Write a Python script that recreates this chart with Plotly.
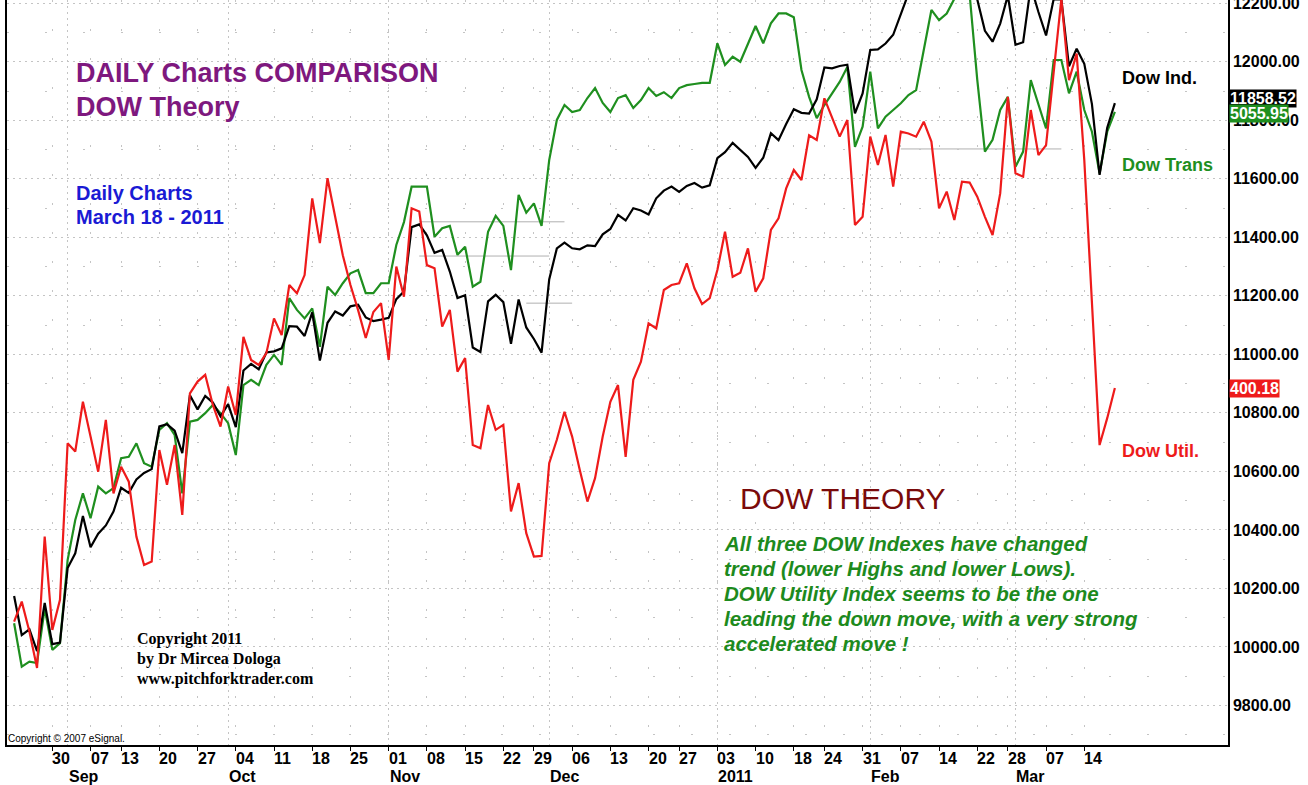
import pandas as pd
import plotly.graph_objects as go

# NYSE sessions shown on the chart (weekends + market holidays skipped)
holidays = ["2010-09-06", "2010-11-25", "2010-12-24", "2011-01-17", "2011-02-21"]
days = pd.bdate_range("2010-08-23", "2011-03-18", freq="C", holidays=holidays)
day_idx = {d.strftime("%Y-%m-%d"): i for i, d in enumerate(days)}

dow_ind = [
    10174.41, 10040.45, 10060.06, 9985.81, 10150.65, 10009.73, 10014.72,
    10269.47, 10320.10, 10447.93, 10340.69, 10387.01, 10415.24, 10462.77,
    10544.13, 10526.49, 10572.73, 10594.83, 10607.85, 10753.62, 10761.03,
    10739.31, 10662.42, 10860.26, 10812.04, 10858.14, 10835.28, 10788.05,
    10829.68, 10751.27, 10944.72, 10967.65, 10948.58, 11006.48, 11010.34,
    11020.40, 11096.08, 11094.57, 11062.78, 11143.69, 10978.62, 11107.97,
    11146.57, 11132.56, 11164.05, 11169.46, 11126.28, 11113.95, 11118.49,
    11124.62, 11188.72, 11215.13, 11434.84, 11444.08, 11406.84, 11346.75,
    11357.04, 11283.10, 11192.58, 11201.97, 11023.50, 11007.88, 11181.23,
    11203.55, 11178.58, 11036.37, 11187.28, 11092.00, 11052.49, 11006.02,
    11255.78, 11362.19, 11382.09, 11362.41, 11359.16, 11372.48, 11370.06,
    11410.32, 11428.56, 11476.54, 11457.47, 11499.25, 11491.91, 11478.13,
    11533.16, 11559.49, 11573.49, 11555.03, 11575.54, 11585.38, 11569.71,
    11577.51, 11670.75, 11691.18, 11722.89, 11697.31, 11674.76, 11637.45,
    11671.88, 11755.44, 11731.90, 11787.38, 11837.93, 11825.29, 11822.80,
    11871.84, 11980.52, 11977.19, 11985.44, 11989.83, 11823.70, 11891.93,
    12040.16, 12041.97, 12062.26, 12092.15, 12161.63, 12233.15, 12239.89,
    12229.29, 12273.26, 12268.19, 12226.64, 12288.17, 12318.14, 12391.25,
    12212.79, 12105.78, 12068.50, 12130.45, 12226.34, 12058.02, 12066.80,
    12258.20, 12169.88, 12090.03, 12214.38, 12213.09, 11984.61, 12044.40,
    11993.16, 11855.42, 11613.30, 11774.59, 11858.52,
]

# Transports and Utilities as overlaid on the Dow Ind price scale
dow_trans = [
    10081, 9933, 9950, 9945, 10132, 9990, 10013, 10297, 10434, 10525,
    10440, 10548, 10525, 10543, 10645, 10650, 10696, 10628, 10616, 10742,
    10765, 10725, 10525, 10770, 10776, 10799, 10827, 10799, 10765, 10656,
    10895, 10913, 10895, 10964, 10998, 10964, 11192, 11152, 11123, 11157,
    11026, 11231, 11203, 11243, 11277, 11288, 11209, 11209, 11243, 11243,
    11374, 11452, 11573, 11573, 11573, 11402, 11431, 11439, 11340, 11368,
    11231, 11248, 11419, 11473, 11439, 11288, 11545, 11484, 11516, 11439,
    11664, 11801, 11852, 11828, 11835, 11876, 11910, 11859, 11828, 11876,
    11886, 11842, 11869, 11910, 11883, 11896, 11876, 11910, 11920, 11924,
    11928, 11928, 12063, 11989, 12017, 12000, 12063, 12122, 12063, 12131,
    12165, 12165, 12152, 11972, 11880, 11807, 11852, 11893, 11931, 11982,
    11709, 11778, 11966, 11772, 11812, 11835, 11858, 11886, 11903, 12040,
    12177, 12142, 12165, 12215, 12240, 12230, 11938, 11693, 11733, 11835,
    11880, 11641, 11693, 11937, 11858, 11772, 12006, 12006, 11892, 11966,
    11835, 11761, 11619, 11761, 11829,
]

dow_util = [
    10087, 10155, 10053, 9928, 10377, 10058, 10161, 10696, 10668, 10838,
    10719, 10599, 10776, 10525, 10616, 10565, 10377, 10280, 10292, 10673,
    10554, 10690, 10451, 10867, 10907, 10930, 10827, 10753, 10890, 10793,
    11060, 10981, 10964, 11004, 11123, 11066, 11237, 11209, 11271, 11533,
    11380, 11602, 11470, 11339, 11237, 11151, 11056, 11145, 11175, 10981,
    11300, 11197, 11499, 11488, 11305, 11294, 11095, 11152, 10941, 10987,
    10690, 10679, 10827, 10742, 10759, 10463, 10560, 10389, 10309, 10311,
    10628, 10708, 10804, 10719, 10605, 10497, 10577, 10719, 10838, 10895,
    10650, 10913, 10975, 11106, 11089, 11220, 11237, 11243, 11311, 11226,
    11172, 11192, 11288, 11419, 11265, 11279, 11362, 11214, 11260, 11425,
    11465, 11567, 11630, 11596, 11749, 11733, 11875, 11812, 11744, 11801,
    11442, 11470, 11744, 11647, 11750, 11573, 11761, 11755, 11744, 11795,
    11727, 11499, 11556, 11459, 11590, 11587, 11539, 11470, 11408, 11550,
    11880, 11619, 11607, 11835, 11681, 11715, 11970, 12215, 11937, 12028,
    11664, 11169, 10690, 10782, 10885,
]

last_labels = ["11858.52", "5055.95", "400.18"]

week_ticks = ["2010-08-30", "2010-09-07", "2010-09-13", "2010-09-20", "2010-09-27",
              "2010-10-04", "2010-10-11", "2010-10-18", "2010-10-25", "2010-11-01",
              "2010-11-08", "2010-11-15", "2010-11-22", "2010-11-29", "2010-12-06",
              "2010-12-13", "2010-12-20", "2010-12-27", "2011-01-03", "2011-01-10",
              "2011-01-18", "2011-01-24", "2011-01-31", "2011-02-07", "2011-02-14",
              "2011-02-22", "2011-02-28", "2011-03-07", "2011-03-14"]
month_starts = ["2010-09-01", "2010-10-01", "2010-11-01", "2010-12-01",
                "2011-01-03", "2011-02-01", "2011-03-01"]
month_labels = ["Sep", "Oct", "Nov", "Dec", "2011", "Feb", "Mar"]

# faint horizontal levels drawn on the original chart: (from, to, level)
guide_levels = [("2010-11-05", "2010-12-03", 11453),
                ("2010-11-05", "2010-12-01", 11336),
                ("2010-11-26", "2010-12-06", 11175),
                ("2011-02-07", "2011-03-09", 11702)]

BLACK, GREEN, RED = "#000000", "#1f8f1f", "#ee1b1b"
W, H = 1308, 785
L, R, T, B = 7, 80, 0, 40
PW, PH = W - L - R, H - T - B


def px(x):
    return (x - L) / PW


def py(y):
    return 1 - (y - T) / PH


x = list(range(len(days)))
fig = go.Figure()
fig.add_trace(go.Scatter(x=x, y=dow_trans, mode="lines", line=dict(color=GREEN, width=2.2)))
fig.add_trace(go.Scatter(x=x, y=dow_ind, mode="lines", line=dict(color=BLACK, width=2.2)))
fig.add_trace(go.Scatter(x=x, y=dow_util, mode="lines", line=dict(color=RED, width=2.2)))

for a, b, lvl in guide_levels:
    fig.add_shape(type="line", xref="x", yref="y", x0=day_idx[a], x1=day_idx[b],
                  y0=lvl, y1=lvl, line=dict(color="#b0b0b0", width=1), layer="below")

anns = []
bold = dict(family="Liberation Sans, Arial", size=16, color="black", weight="bold")
for d in week_ticks:
    anns.append(dict(xref="x", yref="paper", x=day_idx[d], y=0, xanchor="left", yanchor="top",
                     xshift=-2, yshift=-3, text=d[-2:], showarrow=False, font=bold))
for d, lab in zip(month_starts, month_labels):
    anns.append(dict(xref="x", yref="paper", x=day_idx[d], y=0, xanchor="left", yanchor="top",
                     xshift=-1, yshift=-21, text=lab, showarrow=False, font=bold))


def txt(t, xp, yp, size, color, weight="normal", style="normal", family="Liberation Sans, Arial"):
    anns.append(dict(xref="paper", yref="paper", x=px(xp), y=py(yp), xanchor="left",
                     yanchor="middle", text=t, showarrow=False,
                     font=dict(family=family, size=size, color=color, weight=weight, style=style)))


PURPLE, BLUE = "#7e187e", "#1a1ad4"
txt("DAILY Charts COMPARISON", 74, 73, 27, PURPLE, "bold")
txt("DOW Theory", 74, 107, 27, PURPLE, "bold")
txt("Daily Charts", 74, 193, 20, BLUE, "bold")
txt("March 18 - 2011", 74, 217, 20, BLUE, "bold")
txt("Dow Ind.", 1120, 78, 18, BLACK, "bold")
txt("Dow Trans", 1120, 165, 18, GREEN, "bold")
txt("Dow Util.", 1120, 451, 18, RED, "bold")
txt("DOW THEORY", 738, 498, 30, "#7a0a0a")
note = ["All three DOW Indexes have changed",
        "trend (lower Highs and lower Lows).",
        "DOW Utility Index seems to be the one",
        "leading the down move, with a very strong",
        "accelerated move !"]
for k, line in enumerate(note):
    txt(line, 722, 543 + 25 * k, 20.5, "#1d8a1d", "bold", "italic")
serif = "Liberation Serif, Times New Roman"
for k, line in enumerate(["Copyright 2011", "by Dr Mircea Dologa", "www.pitchforktrader.com"]):
    txt(line, 135, 639 + 20 * k, 16, BLACK, "bold", family=serif)
txt("Copyright \u00a9 2007 eSignal.", 6, 738, 10, BLACK)

# last-value boxes on the price scale
for lab, val, col, sh in [(last_labels[0], dow_ind[-1], BLACK, 5),
                          (last_labels[1], dow_trans[-1], GREEN, -2),
                          (last_labels[2], dow_util[-1], RED, 0)]:
    anns.append(dict(xref="paper", yref="y", x=1, y=val, xanchor="left", yanchor="middle",
                     xshift=1, yshift=sh, text=lab, showarrow=False, bgcolor=col, borderpad=0,
                     font=dict(family="Liberation Sans, Arial", size=16, color="white", weight="bold")))

fig.update_layout(
    width=W, height=H, margin=dict(l=L, r=R, t=T, b=B, autoexpand=False),
    paper_bgcolor="white", plot_bgcolor="white", showlegend=False,
    annotations=anns,
)
fig.update_xaxes(
    range=[-0.93, 158.8], showline=True, linecolor="black", linewidth=1.5,
    tickmode="array", tickvals=[day_idx[d] for d in month_starts], showticklabels=False,
    ticks="", showgrid=True, gridcolor="#c4c4c4", gridwidth=1, griddash="2px,4px",
    zeroline=False, automargin=False,
    minor=dict(tickmode="array", tickvals=[day_idx[d] for d in week_ticks], ticks="outside",
               ticklen=4, tickcolor="black", showgrid=True, gridcolor="#c4c4c4",
               griddash="2px,27px"),
)
fig.update_yaxes(
    range=[9665, 12211], side="right", dtick=200, tick0=0, tickformat=".2f",
    showline=True, mirror=True, linecolor="black", linewidth=1.5, ticks="",
    ticklabeloverflow="allow", automargin=False,
    showgrid=True, gridcolor="#c4c4c4", gridwidth=1, griddash="2px,4px", zeroline=False,
    tickfont=dict(family="Liberation Sans, Arial", size=16, color="black", weight="bold"),
    minor=dict(dtick=100, showgrid=True, gridcolor="#c4c4c4", griddash="2px,36px"),
)

# the page is exactly the figure size, so drop the browser's default body margin
fig.write_html("out.html", config={"displayModeBar": False},
               post_script="document.body.style.margin='0px';")
